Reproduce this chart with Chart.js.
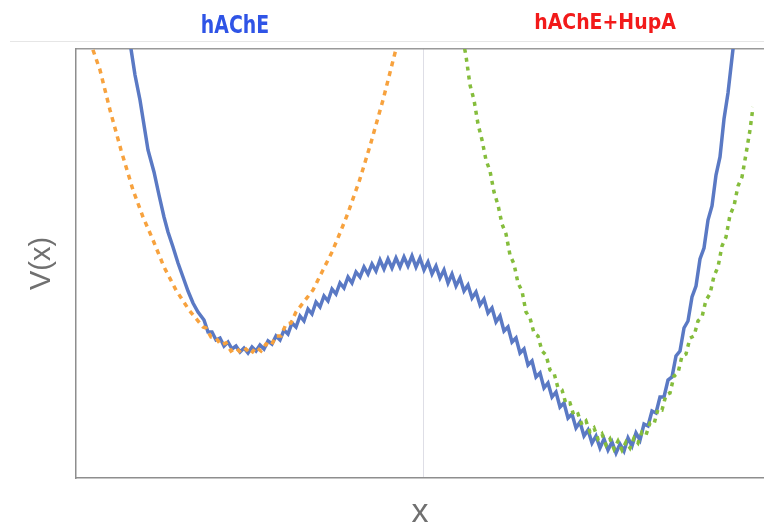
<!DOCTYPE html>
<html>
<head>
<meta charset="utf-8">
<script src="https://cdn.jsdelivr.net/npm/chart.js@4.4.0/dist/chart.umd.min.js"></script>
<style>
  html, body { margin: 0; padding: 0; background: #fff; }
  canvas { display: block; }
</style>
</head>
<body>
<canvas id="potChart" width="764" height="525"></canvas>
<script>
// panel titles and where they sit along x
const panelTitles = ['hAChE', 'hAChE+HupA'];
const titleAt = [159, 529];
// the single vertical guide line
const gridAt = [347];

// V(x) profile, hAChE (blue, solid)
const profileX = [
  53, 55, 59, 64, 68, 72, 78, 83, 88, 92, 97, 102, 107, 112, 117, 122,
  128, 132, 136, 140, 144, 148, 152, 156, 160, 164,
  168, 172, 176, 180, 184, 188, 192, 196, 200, 204,
  208, 212, 216, 220, 224, 228, 232, 236, 240, 244,
  248, 252, 256, 260, 264, 268, 272, 276, 280, 284,
  288, 292, 296, 300, 304, 308, 312, 316, 320, 324,
  328, 332, 336, 340, 344, 348, 352, 356, 360, 364,
  368, 372, 376, 380, 384, 388, 392, 396, 400, 404,
  408, 412, 416, 420, 424, 428, 432, 436, 440, 444,
  448, 452, 456, 460, 464, 468, 472, 476, 480, 484,
  488, 492, 496, 500, 504, 508, 512, 516, 520, 524,
  528, 532, 536, 540, 544, 548, 552, 556, 560, 564,
  568, 572, 576, 580, 584, 588, 592, 596, 600,
  604, 608, 612, 616, 620, 624, 628, 632, 636, 640, 644, 648, 652, 657, 659
];
const profileY = [
  443, 429, 403, 378, 353, 328, 306, 283, 261, 246, 231, 215, 201, 187, 175, 166,
  158, 146, 146, 138, 140, 132, 136, 129, 132, 126,
  130, 125, 131, 127, 133, 129, 137, 134, 142, 138,
  148, 144, 155, 151, 162, 157, 169, 164, 176, 171,
  182, 177, 189, 184, 195, 190, 201, 195, 206, 201,
  211, 204, 214, 207, 218, 209, 219, 210, 220, 211,
  221, 212, 222, 211, 220, 208, 216, 204, 212, 200,
  208, 195, 204, 192, 200, 187, 193, 180, 186, 173,
  179, 165, 170, 156, 162, 147, 151, 136, 140, 125,
  129, 113, 117, 101, 105, 90, 95, 81, 86, 71,
  75, 60, 64, 50, 56, 42, 48, 35, 42, 30,
  39, 28, 36, 25, 34, 27, 40, 32, 45, 38,
  54, 52, 67, 65, 81, 81, 98, 101, 122,
  127, 150, 157, 181, 192, 219, 230, 258, 272, 303, 321, 359, 385, 429, 446
];

// left-well fit (orange, dashed)
const fitAX = [
  15, 17, 24, 34, 45, 57, 67, 77, 88, 100, 113, 127,
  130, 135, 140, 145, 150, 155, 160, 165, 170, 175, 180, 185, 190, 195, 200, 205, 210, 215, 220,
  227, 237, 247, 256, 264, 272, 279, 283, 294, 307, 320, 323
];
const fitAY = [
  438, 428, 408, 368, 328, 288, 261, 238, 211, 188, 168, 151,
  150, 141, 140, 133, 135, 127, 130, 125, 129, 124, 131, 127, 134, 132, 142, 142, 154, 155, 166,
  175, 188, 208, 226, 245, 265, 285, 296, 332, 378, 429, 443
];

// right-well fit, hAChE+HupA (green, dashed)
const fitBX = [
  387, 390, 394, 398, 402, 406, 410, 414, 418, 422, 426, 430, 434, 438, 442, 446,
  450, 454, 458, 462, 466, 470, 474, 478, 482, 486, 490, 494, 498, 502, 506, 510,
  514, 518, 522, 526, 530, 534, 538, 542, 546, 550, 554, 558, 562, 566, 570, 574,
  578, 582, 586, 590, 594, 598, 602, 606, 610, 614, 618, 622, 626, 630, 634, 638,
  642, 646, 650, 654, 658, 662, 666, 670, 674, 677
];
const fitBY = [
  438, 422, 393, 378, 354, 338, 318, 307, 286, 273, 254, 244, 223, 214, 195, 187,
  166, 160, 145, 142, 127, 123, 108, 105, 90, 88, 74, 75, 62, 64, 53, 57,
  46, 50, 39, 44, 33, 39, 29, 37, 28, 36, 30, 40, 35, 46, 43, 55,
  54, 69, 68, 83, 85, 102, 105, 122, 124, 140, 142, 157, 161, 178, 184, 202,
  211, 232, 241, 263, 272, 292, 301, 324, 348, 371
];

const pts = (xs, ys) => xs.map((x, i) => ({ x: x, y: ys[i] }));

const headerPlugin = {
  id: 'header',
  afterDraw(chart) {
    const ctx = chart.ctx;
    const xs = chart.scales.x;
    ctx.save();
    ctx.strokeStyle = '#e6e6e6';
    ctx.lineWidth = 1;
    ctx.beginPath();
    ctx.moveTo(10, 41.5);
    ctx.lineTo(chart.width, 41.5);
    ctx.stroke();
    ctx.textAlign = 'center';
    ctx.textBaseline = 'alphabetic';
    // left title: tall, narrow lettering
    ctx.save();
    ctx.translate(xs.getPixelForValue(titleAt[0]), 33);
    ctx.scale(0.84, 1);
    ctx.font = 'bold 25px "Liberation Sans Narrow", "DejaVu Sans Condensed", sans-serif';
    ctx.fillStyle = '#2f54e6';
    ctx.fillText(panelTitles[0], 0, 0);
    ctx.restore();
    ctx.font = 'bold 21px "Liberation Sans Narrow", "DejaVu Sans Condensed", sans-serif';
    ctx.fillStyle = '#f21a1a';
    ctx.fillText(panelTitles[1], xs.getPixelForValue(titleAt[1]), 29);
    ctx.restore();
  }
};

new Chart(document.getElementById('potChart').getContext('2d'), {
  type: 'line',
  data: {
    datasets: [
      {
        label: 'hAChE fit',
        data: pts(fitAX, fitAY),
        borderColor: '#f7a23e',
        borderWidth: 3.5,
        borderDash: [5, 5],
        order: 1
      },
      {
        label: 'hAChE+HupA fit',
        data: pts(fitBX, fitBY),
        borderColor: '#85bd3c',
        borderWidth: 3.5,
        borderDash: [4, 5],
        order: 1
      },
      {
        label: 'V(x)',
        data: pts(profileX, profileY),
        borderColor: '#5a79c4',
        borderWidth: 3.5,
        order: 2
      }
    ]
  },
  options: {
    responsive: false,
    animation: false,
    layout: { padding: { top: 49, left: 0, right: 0, bottom: 0 } },
    elements: { point: { radius: 0 }, line: { tension: 0 } },
    datasets: { line: { clip: 0 } },
    plugins: { legend: { display: false }, tooltip: { enabled: false } },
    scales: {
      x: {
        type: 'linear',
        min: 0,
        max: 688,
        afterBuildTicks: s => { s.ticks = gridAt.map(v => ({ value: v })); },
        afterFit: s => { s.height = 47; },
        ticks: { display: false },
        grid: { color: '#dedee6', lineWidth: 1, drawTicks: false },
        border: { color: '#8e8e8e', width: 1.5 },
        title: {
          display: true,
          text: 'x',
          color: '#707070',
          font: { family: '"Liberation Sans", Arial, sans-serif', size: 34, lineHeight: 0.7 },
          padding: 0
        }
      },
      xTop: {
        type: 'linear',
        axis: 'x',
        position: 'top',
        min: 0,
        max: 688,
        afterFit: s => { s.height = 0; },
        ticks: { display: false },
        grid: { display: false, drawTicks: false },
        border: { color: '#999999', width: 1.5 }
      },
      y: {
        type: 'linear',
        min: 0,
        max: 429,
        afterFit: s => { s.width = 76; },
        ticks: { display: false },
        grid: { display: false, drawTicks: false },
        border: { color: '#8e8e8e', width: 1.5 },
        title: {
          display: true,
          text: 'V(x)',
          color: '#707070',
          font: { family: '"Liberation Sans", Arial, sans-serif', size: 29 },
          padding: { top: 25, bottom: 0 }
        }
      }
    }
  },
  plugins: [headerPlugin]
});
</script>
</body>
</html>
